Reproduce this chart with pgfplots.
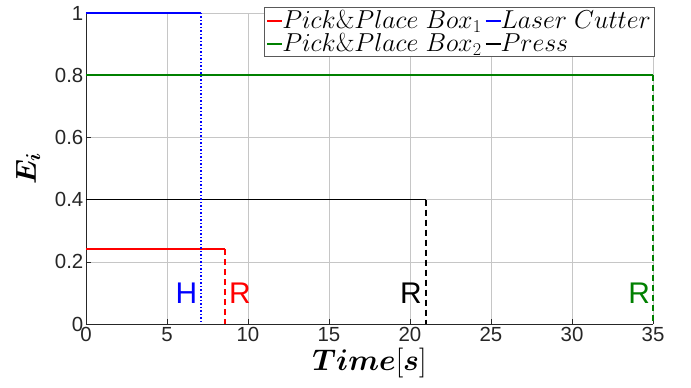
\RequirePackage{fix-cm}
\documentclass[border=0pt]{standalone}
\usepackage{amsmath}
\usepackage[no-math]{fontspec}
\setmainfont{Liberation Sans}
\usepackage{pgfplots}
\pgfplotsset{compat=1.18}
\definecolor{mgreen}{rgb}{0,0.5,0}
\definecolor{axgray}{gray}{0.15}
\newcommand{\lline}[1]{\textcolor{#1}{\rule[0.25em]{15bp}{1.7bp}}}
\begin{document}
\begin{tikzpicture}
\useasboundingbox (-86bp,-64bp) rectangle (605bp,324bp);
\begin{axis}[
  at={(0,0)}, anchor=south west,
  scale only axis, width=567bp, height=311bp,
  xmin=0, xmax=35, ymin=0, ymax=1,
  xtick={0,5,...,35}, ytick={0,0.2,...,1},
  axis x line*=bottom, axis y line*=left,
  axis line style={axgray, line width=0.6bp, -},
  tick style={axgray, line width=0.6bp},
  major tick length=5bp, tick align=inside,
  grid=major, grid style={gray!45, line width=0.6bp},
  tick label style={font=\fontsize{20.5}{24}\selectfont, text=axgray},
  yticklabel style={inner sep=2.5bp},
  xticklabel style={inner sep=3bp},
  /pgf/number format/assume math mode=true,
  clip=false,
  xlabel={$\boldsymbol{Time}[\boldsymbol{s}]$},
  ylabel={$\boldsymbol{E_i}$},
  xlabel style={font=\fontsize{30}{32}\selectfont, at={(axis description cs:0.5,-0.148)}, anchor=base},
  ylabel style={font=\fontsize{29}{32}\selectfont, at={(axis description cs:-0.102,0.5)}, anchor=center},
  legend columns=2,
  legend style={at={(1,1)}, anchor=north east, yshift=6bp, xshift=1bp,
    draw=gray!70!black, fill=white, font=\fontsize{26}{28}\selectfont,
    inner sep=1bp, row sep=0bp, column sep=0bp},
  legend cell align=left,
  legend image code/.code={},
]
\addplot[red, line width=1.7bp] coordinates {(0,0.241) (8.58,0.241)};
\addlegendentry{\lline{red}$Pick\&Place\ Box_1$}
\addplot[blue, line width=1.7bp] coordinates {(0,1) (7.08,1)};
\addlegendentry{\lline{blue}$Laser\ Cutter$}
\addplot[mgreen, line width=1.7bp] coordinates {(0,0.8) (35,0.8)};
\addlegendentry{\lline{mgreen}$Pick\&Place\ Box_2$}
\addplot[black, line width=1.7bp] coordinates {(0,0.4) (21,0.4)};
\addlegendentry{\lline{black}$Press$}
\addplot[red, line width=1.7bp, dash pattern=on 6bp off 4bp, forget plot] coordinates {(8.58,0.241) (8.58,0)};
\addplot[blue, line width=1.7bp, dash pattern=on 1.5bp off 2bp, forget plot] coordinates {(7.08,1) (7.08,0)};
\addplot[black, line width=1.7bp, dash pattern=on 6bp off 4bp, forget plot] coordinates {(21,0.4) (21,0)};
\addplot[mgreen, line width=1.7bp, dash pattern=on 6bp off 4bp, forget plot] coordinates {(35,0.8) (35,0)};
\node[blue, font=\fontsize{30}{32}\selectfont] at (axis cs:6.2,0.1) {H};
\node[red, font=\fontsize{30}{32}\selectfont] at (axis cs:9.5,0.1) {R};
\node[black, font=\fontsize{30}{32}\selectfont] at (axis cs:20.05,0.1) {R};
\node[mgreen, font=\fontsize{30}{32}\selectfont] at (axis cs:34.15,0.1) {R};
\end{axis}
\end{tikzpicture}
\end{document}
